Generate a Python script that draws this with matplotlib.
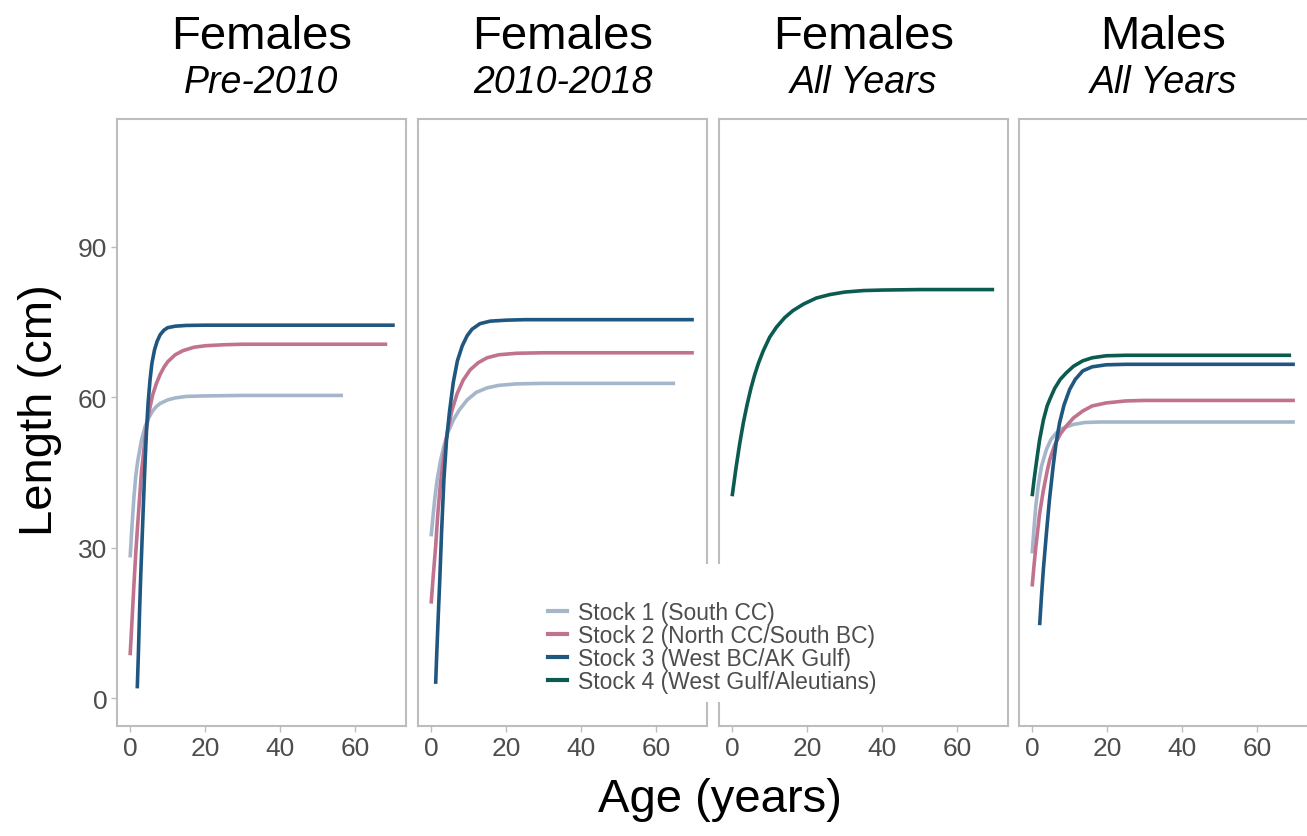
import matplotlib
matplotlib.use("Agg")
import matplotlib.pyplot as plt
from matplotlib.patches import Rectangle

plt.rcParams['font.family'] = ['Liberation Sans', 'DejaVu Sans']

# colours per stock
COLORS = ['#a6b6ca', '#c0728f', '#1f5780', '#0c5b50']
LABELS = ['Stock 1 (South CC)', 'Stock 2 (North CC/South BC)',
          'Stock 3 (West BC/AK Gulf)', 'Stock 4 (West Gulf/Aleutians)']

TITLES = ['Females', 'Females', 'Females', 'Males']
SUBTITLES = ['Pre-2010', '2010-2018', 'All Years', 'All Years']

# --- panel 1: females pre-2010 (age, length)
p1_s1_age = [0, 0.5, 1, 1.5, 2, 3, 4, 5, 6, 7, 8, 10, 12, 15, 20, 30, 56.7]
p1_s1_len = [28.1, 34.5, 40.0, 44.3, 47.2, 51.4, 54.2, 56.0, 57.3, 58.2, 58.8,
             59.5, 59.9, 60.2, 60.3, 60.4, 60.4]
p1_s2_age = [0, 0.5, 1, 1.5, 2, 3, 4, 5, 6, 7, 8, 9, 10, 12, 14, 17, 20, 25,
             30, 68.5]
p1_s2_len = [8.6, 15.5, 22.5, 29.0, 34.5, 45.0, 52.0, 57.0, 60.5, 62.8, 64.6,
             66.0, 67.1, 68.5, 69.3, 70.0, 70.3, 70.5, 70.6, 70.6]
p1_s3_age = [1.9, 2.2, 2.5, 2.8, 3.1, 3.5, 4.0, 4.4, 4.8, 5.3, 5.8, 6.5, 7.2,
             8, 9, 10, 12, 15, 20, 70.5]
p1_s3_len = [2.0, 9.0, 17.0, 24.0, 30.0, 38.0, 47.5, 54.0, 59.0, 63.5, 66.8,
             69.5, 71.2, 72.5, 73.4, 73.9, 74.2, 74.35, 74.4, 74.4]

# --- panel 2: females 2010-2018
p2_s1_age = [0, 0.5, 1, 1.6, 2.5, 3.4, 4.5, 6, 7.5, 9.6, 12, 14.9, 18, 22.8,
             30, 65]
p2_s1_len = [32.3, 36.3, 40.0, 43.6, 47.4, 50.3, 53.1, 55.6, 57.5, 59.5, 61.0,
             61.9, 62.4, 62.7, 62.8, 62.8]
p2_s2_age = [0, 0.6, 1.2, 1.8, 2.5, 3.4, 4.3, 5.5, 6.9, 8.5, 10.4, 12.5, 14.9,
             18, 22.8, 30, 70]
p2_s2_len = [18.9, 24.8, 30.3, 37.0, 43.0, 48.5, 53.0, 57.3, 60.7, 63.4, 65.5,
             66.9, 67.9, 68.5, 68.8, 68.9, 68.9]
p2_s3_age = [1.2, 1.5, 1.9, 2.3, 2.8, 3.4, 4.1, 4.9, 5.9, 7, 8.3, 9.6, 10.9,
             13, 15.7, 20, 25, 70]
p2_s3_len = [2.9, 9.0, 16.5, 23.6, 33.5, 43.6, 51.5, 57.2, 63.0, 67.3, 70.3,
             72.3, 73.6, 74.7, 75.2, 75.4, 75.5, 75.5]

# --- panel 3: females all years
p3_s4_age = [0, 1, 2, 3, 4, 5, 6, 7, 8.3, 10, 11.8, 14, 16.2, 19, 22.4, 26,
             30, 35, 40, 50, 69.8]
p3_s4_len = [40.3, 45.8, 50.7, 55.0, 58.6, 61.8, 64.5, 66.8, 69.3, 72.0, 74.0,
             75.9, 77.3, 78.6, 79.8, 80.5, 81.0, 81.3, 81.4, 81.5, 81.5]

# --- panel 4: males all years
p4_s1_age = [0, 0.5, 1, 1.6, 2.5, 3.8, 5, 6.4, 8, 10.9, 14, 17.9, 70]
p4_s1_len = [28.9, 34.0, 38.5, 42.3, 46.3, 49.6, 51.6, 52.9, 53.8, 54.6, 55.0,
             55.1, 55.1]
p4_s2_age = [0, 0.5, 1, 2, 3, 4, 4.7, 6, 7.5, 9.1, 11, 13.5, 16, 19.7, 25, 30,
             70]
p4_s2_len = [22.3, 26.5, 30.3, 36.9, 41.5, 45.3, 47.6, 50.5, 52.7, 54.3, 55.9,
             57.3, 58.3, 58.9, 59.3, 59.4, 59.4]
p4_s3_age = [2, 2.5, 3, 3.8, 4.6, 5.6, 6.4, 7.3, 8.5, 10, 11.5, 13.5, 16, 19.7,
             25, 70]
p4_s3_len = [14.6, 20.5, 25.8, 32.9, 39.5, 46.3, 51.0, 54.9, 58.5, 61.6, 63.6,
             65.3, 66.1, 66.5, 66.6, 66.6]
p4_s4_age = [0, 0.5, 1, 1.5, 2, 3, 4, 4.7, 6, 7.5, 9.1, 11, 13.5, 16, 19.7, 25,
             69]
p4_s4_len = [40.3, 43.5, 46.3, 49.0, 51.6, 55.5, 58.3, 59.6, 61.8, 63.6, 64.9,
             66.2, 67.3, 67.9, 68.3, 68.4, 68.4]

panels = [
    [(0, p1_s1_age, p1_s1_len), (1, p1_s2_age, p1_s2_len), (2, p1_s3_age, p1_s3_len)],
    [(0, p2_s1_age, p2_s1_len), (1, p2_s2_age, p2_s2_len), (2, p2_s3_age, p2_s3_len)],
    [(3, p3_s4_age, p3_s4_len)],
    [(0, p4_s1_age, p4_s1_len), (1, p4_s2_age, p4_s2_len),
     (2, p4_s3_age, p4_s3_len), (3, p4_s4_age, p4_s4_len)],
]

W, H = 1307, 837
fig = plt.figure(figsize=(W / 100, H / 100), dpi=100)

lefts = [117, 418, 719, 1019]
pw, top, bottom = 289, 120, 727
frame_col = '#bdbdbd'
tick_col = '#4d4d4d'

for i, series in enumerate(panels):
    ax = fig.add_axes([lefts[i] / W, 1 - bottom / H, pw / W, (bottom - top) / H])
    for idx, age, length in series:
        ax.plot(age, length, color=COLORS[idx], lw=2.6, solid_capstyle='butt',
                solid_joinstyle='round')
    ax.set_xlim(-3.5, 73.5)
    ax.set_ylim(-5.5, 115.5)
    ax.set_xticks([0, 20, 40, 60])
    ax.set_yticks([0, 30, 60, 90])
    for sp in ax.spines.values():
        sp.set_color(frame_col)
        sp.set_linewidth(1.5)
    ax.tick_params(colors=frame_col, labelcolor=tick_col, labelsize=19,
                   length=4, width=1.0, pad=3)
    if i > 0:
        ax.tick_params(axis='y', left=False, labelleft=False)
    cx = (lefts[i] + pw / 2) / W
    fig.text(cx, 1 - 37 / H, TITLES[i], ha='center', va='center', fontsize=34)
    fig.text(cx, 1 - 83 / H, SUBTITLES[i], ha='center', va='center',
             fontsize=27, style='italic')

fig.text(40 / W, 1 - 410 / H, 'Length (cm)', rotation=90, ha='center',
         va='center', fontsize=34)
fig.text(720 / W, 1 - 800 / H, 'Age (years)', ha='center', va='center',
         fontsize=34)

# white box behind the legend, covering the panel borders
fig.patches.append(Rectangle((535 / W, 1 - 703 / H), 370 / W, 138 / H,
                             transform=fig.transFigure, facecolor='white',
                             edgecolor='none', zorder=2))

handles = [plt.Line2D([], [], color=c, lw=3) for c in COLORS]
leg = fig.legend(handles, LABELS, loc='center left',
                 bbox_to_anchor=(548 / W, 1 - 648 / H), frameon=False,
                 fontsize=16.5, handlelength=0.82, handletextpad=0.48,
                 labelspacing=0.0, borderpad=0, borderaxespad=0,
                 labelcolor=tick_col)
leg.set_zorder(3)

fig.savefig('out.png', dpi=100)
